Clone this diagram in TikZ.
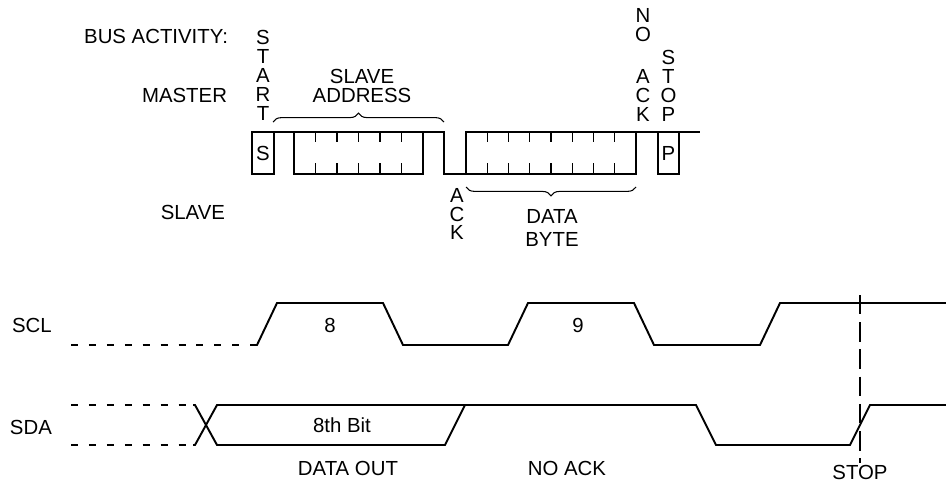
\documentclass[tikz,border=0pt]{standalone}
\usepackage{fontspec}
\setmainfont{Liberation Sans}
\usetikzlibrary{positioning,decorations.pathreplacing}

\tikzset{
  every node/.style={font=\fontsize{11.6}{13}\selectfont, inner sep=0pt, outer sep=0pt},
  vlbl/.style={font=\fontsize{11.6}{10.8}\selectfont, align=center},
  cell/.style={draw, line width=1.1pt, minimum height=0.84cm},
  wave/.style={line width=1.1pt},
  tickmark/.style={line width=0.7pt},
  brc/.style={line width=0.6pt, decorate, decoration={brace, amplitude=5pt}},
  dashlow/.style={line width=1.1pt, dash pattern=on 4pt off 6.2pt},
}

\begin{document}
\begin{tikzpicture}[x=0.02cm, y=-0.02cm]
\useasboundingbox (0,0) rectangle (946,484);

% left labels
\node(Bus)      [anchor=east] at (228,36)   {BUS ACTIVITY:};
\node(Master)   [anchor=east] at (227,95)   {MASTER};
\node(Slave)    [anchor=east] at (225,212)  {SLAVE};
\node(SCLlbl)   [anchor=west] at (12,325)   {SCL};
\node(SDAlbl)   [anchor=west] at (10,427)   {SDA};

% bus frame
\node(S)    [cell, minimum width=0.44cm] at (263,153)   {S};
\node(Addr) [cell, minimum width=2.58cm, right=0.4cm of S]     {};
\node(Data) [cell, minimum width=3.4cm, right=0.86cm of Addr]  {};
\node(P)    [cell, minimum width=0.42cm, right=0.44cm of Data] {P};

\draw[wave] (S.north east) -- (Addr.north west);
\draw[wave] (Addr.north east) -- ++(21,0) |- (Data.south west);
\draw[wave] (Data.north east) -- (P.north west);
\draw[wave] (P.north east) -- ++(21,0);

\foreach \i in {1,...,5} {
\draw[tickmark] (294+\i*21.5,132) -- ++(0,10);
\draw[tickmark] (294+\i*21.5,174) -- ++(0,-11);
}
\foreach \i in {1,...,7} {
\draw[tickmark] (466+\i*21.25,132) -- ++(0,10);
\draw[tickmark] (466+\i*21.25,174) -- ++(0,-11);
}

% frame labels
\node(Start)    [vlbl, above=0.24cm of S]   {S\\T\\A\\R\\T};
\node(Stop)     [vlbl, above=0.22cm of P]   {S\\T\\O\\P};
\node(NoAck)    [vlbl, anchor=south] at (643,121) {N\\O\\[13pt]A\\C\\K};
\node(Ack)      [vlbl, anchor=north] at (457,188) {A\\C\\K};
\node(AddrTxt)  [vlbl] at (362,85.5)        {SLAVE\\ADDRESS};
\node(DataTxt)  [align=center] at (552,228) {DATA\\BYTE};

\draw[brc] (273,122) -- (444,122);
\draw[brc] (636,187) -- (466,187);

% SCL
\draw[dashlow] (71,345) -- (252,345);
\draw[wave] (252,345) -- (257,345) -- (277,303) -- (383,303) -- (403,345) -- (508,345)
  -- (528,303) -- (634,303) -- (654,345) -- (760,345) -- (780,303) -- (946,303);
\node(Eight) at (330,325) {8};
\node(Nine)  at (578,325) {9};

% SDA
\draw[dashlow] (71,405) -- (193,405);
\draw[dashlow] (71,445) -- (193,445);
\draw[wave] (193,405) -- (195,405) -- (217,445) -- (445,445) -- (465,405);
\draw[wave] (193,445) -- (195,445) -- (217,405) -- (696,405) -- (716,445) -- (850,445)
  -- (870,405) -- (946,405);
\node(Bit)      at (342,425) {8th Bit};
\node(DataOut)  at (348,468) {DATA OUT};
\node(NoAckTxt) at (567,468) {NO ACK};
\node(StopTxt)  at (860,472) {STOP};

\draw[line width=0.6pt, dash pattern=on 11pt off 4.5pt] (860,295) -- (860,463);
\end{tikzpicture}
\end{document}
